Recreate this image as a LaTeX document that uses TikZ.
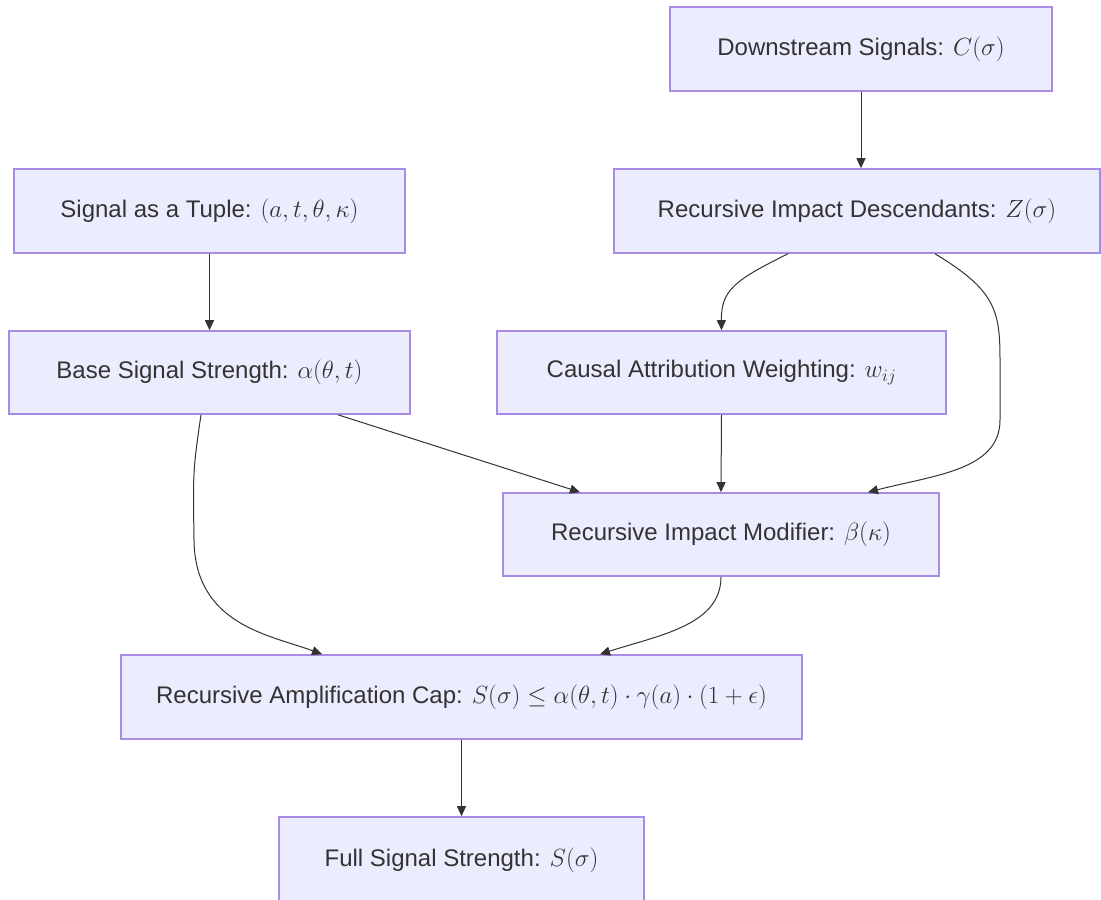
\documentclass[tikz,border=0pt]{standalone}
\usepackage{fontspec}
\setmainfont{Liberation Sans}
\usetikzlibrary{arrows.meta}
\definecolor{boxfill}{HTML}{ECECFF}
\definecolor{boxline}{HTML}{A98BE6}
\definecolor{ink}{HTML}{333333}
\tikzset{
  flowbox/.style={draw=boxline, fill=boxfill, line width=1.6pt, text=ink, font=\fontsize{24}{28}\selectfont, inner sep=0pt, anchor=center},
  flowedge/.style={draw=ink, line width=1pt, -{Triangle[length=10pt,width=9pt]}}
}
\begin{document}
\begin{tikzpicture}[x=1pt,y=-1pt]
\useasboundingbox (0,0) rectangle (1101,900);
\node[flowbox, minimum width=382pt, minimum height=84pt] (down) at (861,49) {Downstream Signals: $C(\sigma)$};
\node[flowbox, minimum width=391pt, minimum height=84pt] (tuple) at (209.5,211) {Signal as a Tuple: $(a, t, \theta, \kappa)$};
\node[flowbox, minimum width=486pt, minimum height=84pt] (desc) at (857,211) {Recursive Impact Descendants: $Z(\sigma)$};
\node[flowbox, minimum width=401pt, minimum height=83pt] (base) at (209.5,372.5) {Base Signal Strength: $\alpha(\theta, t)$};
\node[flowbox, minimum width=449pt, minimum height=83pt] (causal) at (721.5,372.5) {Causal Attribution Weighting: $w_{ij}$};
\node[flowbox, minimum width=436pt, minimum height=83pt] (modif) at (721,534.5) {Recursive Impact Modifier: $\beta(\kappa)$};
\node[flowbox, minimum width=681pt, minimum height=84pt] (cap) at (461.5,697) {Recursive Amplification Cap: $S(\sigma) \leq \alpha(\theta, t) \cdot \gamma(a) \cdot (1 + \epsilon)$};
\node[flowbox, minimum width=365pt, minimum height=86pt] (full) at (461.5,860) {Full Signal Strength: $S(\sigma)$};

\draw[flowedge] (down.south) -- (down.south |- desc.north);
\draw[flowedge] (tuple.south) -- (base.north);
\draw[flowedge] ([xshift=-69pt]desc.south) .. controls (735,280) and (721,290) .. (causal.north);
\draw[flowedge] ([xshift=78pt]desc.south) .. controls (995,290) and (1000,310) .. (1000,360) -- (1000,420) .. controls (1000,470) and (935,475) .. ([xshift=147pt]modif.north);
\draw[flowedge] ([xshift=128.5pt]base.south) -- ([xshift=-141pt]modif.north);
\draw[flowedge] (causal.south) -- (modif.north);
\draw[flowedge] ([xshift=-8.5pt]base.south) .. controls (193,470) .. (194,540) .. controls (195,625) and (270,635) .. ([xshift=-139.5pt]cap.north);
\draw[flowedge] (modif.south) .. controls (721,625) and (660,635) .. ([xshift=138.5pt]cap.north);
\draw[flowedge] (cap.south) -- (full.north);
\end{tikzpicture}
\end{document}
